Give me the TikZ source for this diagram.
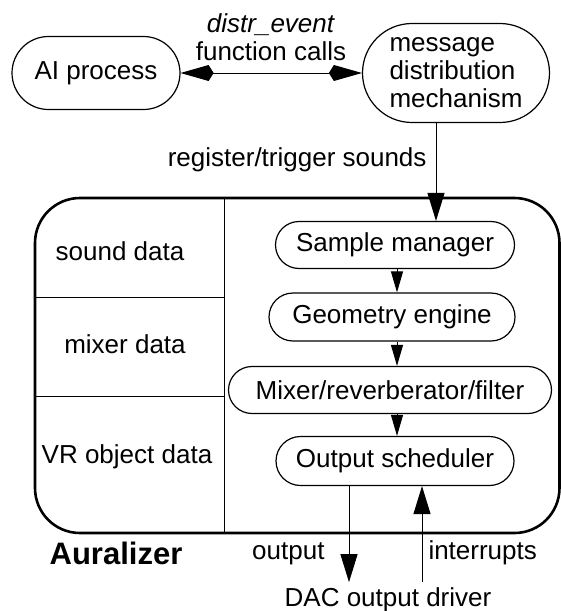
\documentclass[tikz,border=0pt]{standalone}
\usepackage{fontspec}
\setmainfont{Liberation Sans}
\usetikzlibrary{shapes.misc,arrows.meta}
\begin{document}
\begin{tikzpicture}[x=0.5pt,y=-0.5pt,
 pill/.style={draw,line width=0.6pt,rounded rectangle,inner sep=0pt,font=\fontsize{13}{14}\selectfont},
 lbl/.style={inner sep=0pt,font=\fontsize{13}{14}\selectfont},
 arrbig/.style={-{Triangle[length=14pt,width=8.5pt]},line width=0.5pt},
 arrsmall/.style={-{Triangle[length=10.5pt,width=6pt]},line width=0.5pt},
 dblkite/.style={{Kite[length=16.5pt,width=8pt,inset=2.5pt]}-{Kite[length=16.5pt,width=8pt,inset=2.5pt]},line width=0.5pt}]
 \useasboundingbox (0,0) rectangle (561,611);
 \node[pill,minimum width=84pt,minimum height=36.5pt] (ai) at (96,73) {AI process};
 \node[pill,minimum width=93.5pt,minimum height=49.5pt,align=left] (msg) at (456,73) {message\\distribution\\mechanism};
 \draw[dblkite] (ai.east) -- (msg.west);
 \node[lbl,align=center] (calls) at (271,37) {\textit{distr\_event}\\function calls};
 \draw[line width=1.3pt,rounded corners=22.5pt] (35,198) rectangle (559.5,533);
 \draw[line width=0.5pt] (224,198) -- (224,533);
 \draw[line width=0.5pt] (35,297) -- (224,297);
 \draw[line width=0.5pt] (35,396) -- (224,396);
 \node[lbl] (snd) at (120,251) {sound data};
 \node[lbl] (mix) at (125,344) {mixer data};
 \node[lbl] (vr) at (127,457) {VR object data};
 \node[pill,minimum width=119.5pt,minimum height=23.5pt] (sm) at (395,245) {Sample manager};
 \node[pill,minimum width=123pt,minimum height=24pt] (ge) at (392,317) {Geometry engine};
 \node[pill,minimum width=161.5pt,minimum height=23.5pt] (mx) at (390,390) {Mixer/reverberator/filter};
 \node[pill,minimum width=119pt,minimum height=24.5pt] (os) at (395,461) {Output scheduler};
 \coordinate (ax) at (397,0);
 \coordinate (rx) at (436,0);
 \coordinate (ox) at (349,0);
 \coordinate (ix) at (422,0);
 \draw[arrbig] (msg.south -| rx) -- (sm.north -| rx) node[lbl,pos=0.37,left=4.5pt] {register/trigger sounds};
 \draw[arrsmall] (sm.south -| ax) -- (ge.north -| ax);
 \draw[arrsmall] (ge.south -| ax) -- (mx.north -| ax);
 \draw[arrsmall] (mx.south -| ax) -- (os.north -| ax);
 \node[lbl,anchor=base,outer sep=2.5pt] (dac) at (388,606) {DAC output driver};
 \draw[arrbig] (os.south -| ox) -- (dac.north -| ox) node[lbl,pos=0.7,left=12pt] {output};
 \draw[arrbig] (dac.north -| ix) -- (os.south -| ix) node[lbl,pos=0.31,right=3pt] {interrupts};
 \node[font=\bfseries\fontsize{15.5}{17}\selectfont,inner sep=0pt] (aur) at (116,553) {Auralizer};
\end{tikzpicture}
\end{document}
